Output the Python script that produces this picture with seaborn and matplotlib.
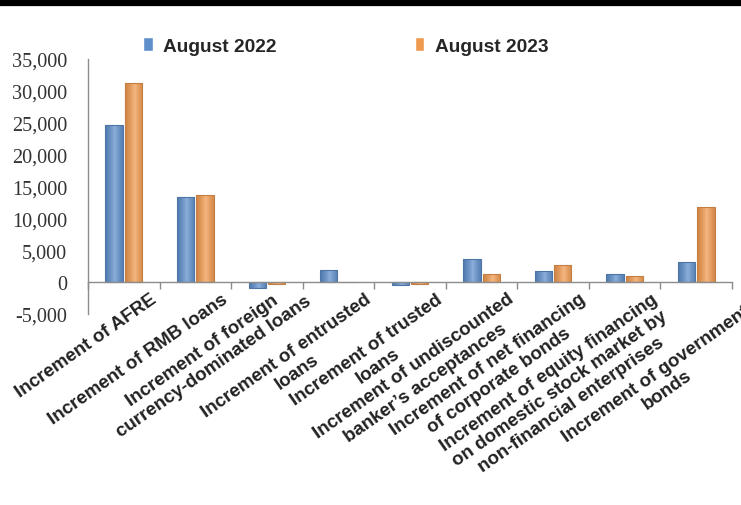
import matplotlib
matplotlib.use("Agg")
import matplotlib.pyplot as plt
import matplotlib.transforms as mtransforms
from matplotlib.lines import Line2D
from matplotlib.colors import to_rgb
from matplotlib.ticker import FuncFormatter, FixedLocator
import numpy as np
import pandas as pd
import seaborn as sns

# Increments of aggregate financing to the real economy (100 million yuan)
categories = [
    "Increment of AFRE",
    "Increment of RMB loans",
    "Increment of foreign\ncurrency-dominated loans",
    "Increment of entrusted\nloans",
    "Increment of trusted\nloans",
    "Increment of undiscounted\nbanker\u2019s acceptances",
    "Increment of net financing\nof corporate bonds",
    "Increment of equity financing\non domestic stock market by\nnon-financial enterprises",
    "Increment of government\nbonds",
]
periods = ["August 2022", "August 2023"]
aug_2022 = [24600, 13300, -900, 1900, -400, 3600, 1700, 1300, 3200]
aug_2023 = [31200, 13600, -250, -50, -250, 1200, 2750, 1000, 11800]
y_ticks = [-5000, 0, 5000, 10000, 15000, 20000, 25000, 30000, 35000]

df = pd.DataFrame({
    "category": categories * 2,
    "period": [periods[0]] * len(categories) + [periods[1]] * len(categories),
    "value": aug_2022 + aug_2023,
})

sns.set_theme(style="white")
plt.rcParams["font.family"] = ["Liberation Sans", "DejaVu Sans"]

fig = plt.figure(figsize=(7.41, 5.06), dpi=100)
ax = fig.add_axes([88 / 741, 1 - 315 / 506, (732 - 88) / 741, (315 - 60) / 506])

palette = {periods[0]: "#5f8fcb", periods[1]: "#f09a50"}
sns.barplot(data=df, x="category", y="value", hue="period", order=categories,
            hue_order=periods, palette=palette, width=0.54, gap=0.1,
            saturation=1, ax=ax, legend=True)


def shaded(color):
    """Horizontal shading: darker at the sides, lighter towards the middle."""
    base = np.array(to_rgb(color))
    t = np.linspace(0, 1, 32)
    light = 1 - np.abs(t - 0.55) / 0.55
    rows = base[None, :] * (0.86 + 0.14 * light[:, None]) + \
        (1 - base[None, :]) * 0.28 * light[:, None] ** 1.5
    return np.clip(rows, 0, 1)[None, :, :]


# fill each bar with the shading, clipped to the bar, keep a darker outline
for patch in list(ax.patches):
    h = patch.get_height()
    if h == 0 or np.isnan(h):
        continue
    fc = patch.get_facecolor()
    x0, w, y0 = patch.get_x(), patch.get_width(), patch.get_y()
    img = ax.imshow(shaded(fc), extent=[x0, x0 + w, y0, y0 + h], aspect="auto",
                    interpolation="bilinear", zorder=patch.get_zorder() + 0.05)
    img.set_clip_path(patch)
    patch.set_edgecolor(tuple(c * 0.82 for c in fc[:3]))
    patch.set_linewidth(0.8)
    patch.set_zorder(patch.get_zorder() + 0.1)
    patch.set_facecolor("none")

ax.set_xlim(-0.5, len(categories) - 0.5)
ax.set_ylim(-5000, 35000)
ax.set_xlabel("")
ax.set_ylabel("")

spine_col = "#8c8c8c"
for side in ["top", "right"]:
    ax.spines[side].set_visible(False)
ax.spines["left"].set_color(spine_col)
ax.spines["left"].set_linewidth(1.0)
ax.spines["bottom"].set_position(("data", 0))
ax.spines["bottom"].set_color(spine_col)
ax.spines["bottom"].set_linewidth(1.0)
ax.spines["bottom"].set_zorder(5)

ax.yaxis.set_major_locator(FixedLocator(y_ticks))
ax.yaxis.set_major_formatter(FuncFormatter(lambda v, _: f"{v:,.0f}"))
ax.tick_params(axis="y", which="major", direction="out", length=5, width=1,
               color=spine_col, pad=10, labelsize=14.6, labelcolor="#333333")
for lab in ax.get_yticklabels():
    lab.set_fontfamily(["Liberation Serif", "DejaVu Serif"])

# category boundaries carry the tick marks; labels sit on category centres
ax.xaxis.set_minor_locator(FixedLocator(np.arange(-0.5, len(categories), 1.0)))
ax.tick_params(axis="x", which="minor", direction="out", length=5, width=1,
               color=spine_col, bottom=True)
ax.tick_params(axis="x", which="major", length=0, pad=0)
ax.set_xticks(range(len(categories)))
ax.set_xticklabels(categories)

# label placement (pixels, x right / y up) with a few per-label nudges
base_shift = (26, -8)
label_nudge = {2: (0, 14), 8: (21, -12)}
for i, lab in enumerate(ax.get_xticklabels()):
    dx, dy = base_shift
    ndx, ndy = label_nudge.get(i, (0, 0))
    shift = mtransforms.ScaledTranslation((dx + ndx) / 100, (dy + ndy) / 100,
                                          fig.dpi_scale_trans)
    lab.set_rotation(35)
    lab.set_rotation_mode("anchor")
    lab.set_ha("right")
    lab.set_va("top")
    lab.set_multialignment("center")
    lab.set_fontweight("bold")
    lab.set_fontsize(13.5)
    lab.set_color("#222222")
    lab.set_transform(lab.get_transform() + shift)

ax.grid(False)

handles, labels = ax.get_legend_handles_labels()
ax.get_legend().remove()
fig.legend(handles, labels, loc="center left", bbox_to_anchor=(126 / 741, 1 - 47 / 506),
           ncol=2, frameon=False, handlelength=0.5, handleheight=0.75,
           handletextpad=0.55, columnspacing=7.2,
           prop={"weight": "bold", "size": 13.8})

# heavy rule across the top edge
fig.add_artist(Line2D([0, 1], [1 - 4 / 506, 1 - 4 / 506], transform=fig.transFigure,
                      color="black", linewidth=4.5))

fig.savefig("out.png", dpi=100)
